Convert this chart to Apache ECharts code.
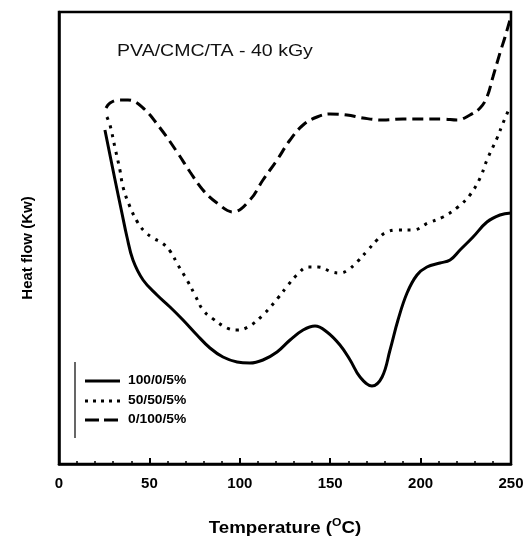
<!DOCTYPE html>
<html>
<head>
<meta charset="utf-8">
<script src="https://cdn.jsdelivr.net/npm/echarts@6/dist/echarts.min.js"></script>
<style>html,body{margin:0;padding:0;background:#fff}#c{width:527px;height:540px}</style>
</head>
<body>
<div id="c"></div>
<script>
// Temperature (°C) and heat flow (arbitrary units)
const tSolid = [25.4,31,34.8,37.6,40.9,46.5,54.2,61.4,68.6,76.3,83.5,90.7,98.5,105.6,112.8,120.6,127.8,135,141.6,148.2,155.4,161,166.5,173.1,178.7,183.1,187.5,192.5,198,203.5,210.7,216.3,221.8,229,236.7,243.9,250];
const vSolid = [334,284,251,227,204,184,169,157,144,129,116,107,102,101,104,112,124,134,138,132,119,104,87,78,87,114,144,171,189,197,201,204,214,227,242,249,251];

const tDotted = [26.5,28.2,31,33.7,35.4,39.3,43.7,47.6,52,57,61.4,65.8,70.8,75.2,79.6,84.6,92.9,98.5,104.5,112.8,121.1,126.7,131.6,137.7,143.3,151,155.4,159.8,164.8,170.9,175.9,180.3,186.9,195.8,204.1,212.4,220.7,227.3,232.9,236.7,242.3,245.6,249.4];
const vDotted = [347,339,316,294,277,257,241,232,226,221,213,199,184,169,154,146,136,134,137,149,166,179,189,197,197,192,191,194,202,214,224,231,234,234,241,247,257,269,286,304,326,341,357];

const tDashed = [26,28.2,33,38.2,46.5,55.9,65.3,72.5,79.6,87.4,96.2,105.6,112.8,120.6,127.8,135,142.7,149.9,159.3,168.1,179.2,190.3,201.3,212.4,220.1,227.3,232.9,236.7,240,243.9,246.7,249.4];
const vDashed = [356,361,364,364,356,336,312,292,274,261,252,264,284,304,324,339,347,350,349,346,344,345,345,345,344,349,356,367,387,411,427,444];

const seriesNames = ['100/0/5%','50/50/5%','0/100/5%'];
const xTicks = [0,50,100,150,200,250];
const titleText = 'PVA/CMC/TA - 40 kGy';
const xName = 'Temperature (';
const yName = 'Heat flow (Kw)';

function pairs(t, v){ return t.map((x,i)=>[x,v[i]]); }

const chart = echarts.init(document.getElementById('c'));
const font = '"Liberation Sans", Arial, sans-serif';
chart.setOption({
  animation:false,
  grid:{left:59, top:12, width:452, height:452, show:true, borderColor:'#000', borderWidth:2.5, backgroundColor:'transparent'},
  xAxis:{
    type:'value', min:xTicks[0], max:xTicks[xTicks.length-1], interval:50,
    axisLine:{show:true, onZero:false, lineStyle:{color:'#000', width:2.5}},
    axisTick:{show:true, inside:true, length:6, lineStyle:{color:'#000', width:2}},
    minorTick:{show:true, splitNumber:5, length:3, lineStyle:{color:'#000', width:1.5}},
    splitLine:{show:false},
    axisLabel:{color:'#000', fontFamily:font, fontWeight:'bold', fontSize:15, margin:12}
  },
  yAxis:{
    type:'value', min:0, max:452,
    axisLine:{show:true, lineStyle:{color:'#000', width:2.5}},
    axisTick:{show:false}, axisLabel:{show:false}, splitLine:{show:false}
  },
  series:[
    {name:seriesNames[0], type:'line', data:pairs(tSolid,vSolid), smooth:0.4, showSymbol:false,
     lineStyle:{color:'#000', width:3, type:'solid'}},
    {name:seriesNames[1], type:'line', data:pairs(tDotted,vDotted), smooth:0.4, showSymbol:false,
     lineStyle:{color:'#000', width:3, type:[3,6]}},
    {name:seriesNames[2], type:'line', data:pairs(tDashed,vDashed), smooth:0.4, showSymbol:false,
     lineStyle:{color:'#000', width:3, type:[11,6]}}
  ],
  graphic:[
    {type:'text', x:117, y:51, scaleX:1.15, style:{text:titleText, font:'17px "Liberation Sans", Arial, sans-serif', fill:'#111', textVerticalAlign:'middle'}},
    {type:'text', x:285, y:528, scaleX:1.1, style:{
      text:'{a|'+xName+'}{s|O}{a|C)}', align:'center', verticalAlign:'middle',
      rich:{
        a:{font:'bold 17px "Liberation Sans", Arial, sans-serif', fill:'#000'},
        s:{font:'bold 11px "Liberation Sans", Arial, sans-serif', fill:'#000', padding:[0,0,10,0]}
      }}},
    {type:'text', x:28, y:248, rotation:Math.PI/2, style:{text:yName, font:'bold 15px "Liberation Sans", Arial, sans-serif', fill:'#000', align:'center', verticalAlign:'middle'}},
    {type:'line', shape:{x1:75,y1:362,x2:75,y2:438}, style:{stroke:'#000', lineWidth:1.2}},
    {type:'line', shape:{x1:85,y1:381,x2:120,y2:381}, style:{stroke:'#000', lineWidth:3}},
    {type:'line', shape:{x1:85,y1:401,x2:120,y2:401}, style:{stroke:'#000', lineWidth:3, lineDash:[3,5]}},
    {type:'line', shape:{x1:85,y1:420,x2:120,y2:420}, style:{stroke:'#000', lineWidth:3, lineDash:[14,5]}},
    {type:'text', x:128, y:381, scaleX:1.15, style:{text:seriesNames[0], font:'bold 12px "Liberation Sans", Arial, sans-serif', fill:'#000', verticalAlign:'middle'}},
    {type:'text', x:128, y:401, scaleX:1.15, style:{text:seriesNames[1], font:'bold 12px "Liberation Sans", Arial, sans-serif', fill:'#000', verticalAlign:'middle'}},
    {type:'text', x:128, y:420, scaleX:1.15, style:{text:seriesNames[2], font:'bold 12px "Liberation Sans", Arial, sans-serif', fill:'#000', verticalAlign:'middle'}}
  ]
});
</script>
</body>
</html>
